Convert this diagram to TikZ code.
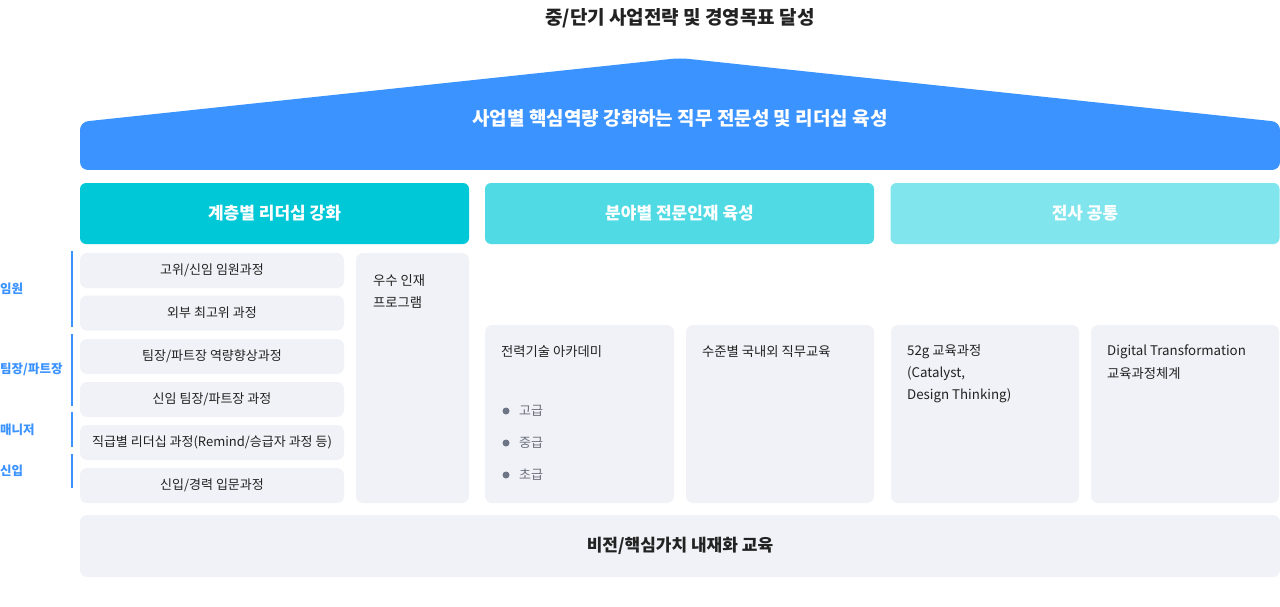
\documentclass[tikz,border=0pt]{standalone}
\usepackage{fontspec}
\setmainfont{Noto Sans CJK KR}
\definecolor{roofblue}{HTML}{3B93FF}
\definecolor{hdA}{HTML}{00C8D7}
\definecolor{hdB}{HTML}{4FDAE4}
\definecolor{hdC}{HTML}{80E5EC}
\definecolor{boxbg}{HTML}{F1F2F7}
\definecolor{txt}{HTML}{222222}
\definecolor{bul}{HTML}{6E7585}
\definecolor{subtxt}{HTML}{6A6F7A}
\begin{document}
\begin{tikzpicture}[x=1pt,y=-1pt,
  hdr/.style={rounded corners=6pt, minimum width=389pt, minimum height=61pt, inner sep=0pt, text=white, font=\fontsize{17}{20}\selectfont\bfseries},
  lbox/.style={fill=boxbg, rounded corners=7pt, minimum width=264pt, minimum height=35pt, inner sep=0pt, text=txt, font=\fontsize{13}{16}\selectfont},
  tallbox/.style={fill=boxbg, rounded corners=7pt, inner sep=0pt, minimum width=#1},
  btxt/.style={anchor=west, text=txt, inner sep=0pt, font=\fontsize{13.3}{16}\selectfont},
  lvl/.style={anchor=west, inner sep=0pt, text=roofblue, font=\fontsize{12.5}{14}\selectfont\bfseries},
  lvline/.style={draw=roofblue, line width=1.6pt},
  dotb/.style={circle, fill=bul, inner sep=0pt, minimum size=7pt},
  subt/.style={anchor=west, inner sep=0pt, text=subtxt, font=\fontsize{13}{16}\selectfont}]
\useasboundingbox (0,0) rectangle (1280,607);
% title
\node[text=txt, font=\fontsize{19}{22}\selectfont\bfseries] (title) at (680,18) {중/단기 사업전략 및 경영목표 달성};
% roof
\fill[roofblue, rounded corners=8pt] (80,170) -- (80,122) -- (680,58) -- (1280,122) -- (1280,170) -- cycle;
\node[text=white, font=\fontsize{19}{22}\selectfont\bfseries] (roof) at (680,118) {사업별 핵심역량 강화하는 직무 전문성 및 리더십 육성};
% headers
\node[hdr, fill=hdA] (h1) at (274.5,213.5) {계층별 리더십 강화};
\node[hdr, fill=hdB] (h2) at (679.5,213.5) {분야별 전문인재 육성};
\node[hdr, fill=hdC] (h3) at (1085,213.5) {전사 공통};
% left column boxes
\node[lbox] (l1) at (212,270.5) {고위/신임 임원과정};
\node[lbox] (l2) at (212,313) {외부 최고위 과정};
\node[lbox] (l3) at (212,356.5) {팀장/파트장 역량향상과정};
\node[lbox] (l4) at (212,399.5) {신임 팀장/파트장 과정};
\node[lbox] (l5) at (212,442.5) {직급별 리더십 과정(Remind/승급자 과정 등)};
\node[lbox] (l6) at (212,485.5) {신입/경력 입문과정};
% talent program
\node[tallbox=113pt, minimum height=250pt] (tp) at (412.5,378) {};
\node[btxt] (tpa) at (373,281) {우수 인재};
\node[btxt] (tpb) at (373,302) {프로그램};
% four middle boxes
\node[tallbox=189pt, minimum height=178pt] (m1) at (579.5,414) {};
\node[tallbox=188pt, minimum height=178pt] (m2) at (780,414) {};
\node[tallbox=188pt, minimum height=178pt] (m3) at (985,414) {};
\node[tallbox=188pt, minimum height=178pt] (m4) at (1185,414) {};
\node[btxt] (m1t) at (501,352) {전력기술 아카데미};
\node[dotb] (d1) at (506,411) {};
\node[dotb] (d2) at (506,443) {};
\node[dotb] (d3) at (506,475) {};
\node[subt] (s1) at (519,411) {고급};
\node[subt] (s2) at (519,443) {중급};
\node[subt] (s3) at (519,475) {초급};
\node[btxt] (m2t) at (702,352) {수준별 국내외 직무교육};
\node[btxt] (m3a) at (907,352) {52g 교육과정};
\node[btxt] (m3b) at (907,374) {(Catalyst,};
\node[btxt] (m3c) at (907,396) {Design Thinking)};
\node[btxt] (m4a) at (1107,352) {Digital Transformation};
\node[btxt] (m4b) at (1107,374) {교육과정체계};
% bottom
\node[fill=boxbg, rounded corners=7pt, minimum width=1200pt, minimum height=62pt, inner sep=0pt, text=txt, font=\fontsize{17}{20}\selectfont\bfseries] (bot) at (680,546) {비전/핵심가치 내재화 교육};
% level labels
\coordinate (a1) at (72,251); \coordinate (a2) at (72,327);
\coordinate (b1) at (72,334); \coordinate (b2) at (72,406);
\coordinate (c1) at (72,412); \coordinate (c2) at (72,447);
\coordinate (e1) at (72,454); \coordinate (e2) at (72,488);
\draw[lvline] (a1) -- (a2);
\draw[lvline] (b1) -- (b2);
\draw[lvline] (c1) -- (c2);
\draw[lvline] (e1) -- (e2);
\node[lvl] (v1) at (0,289) {임원};
\node[lvl] (v2) at (0,369) {팀장/파트장};
\node[lvl] (v3) at (0,430) {매니저};
\node[lvl] (v4) at (0,471) {신입};
\end{tikzpicture}
\end{document}
